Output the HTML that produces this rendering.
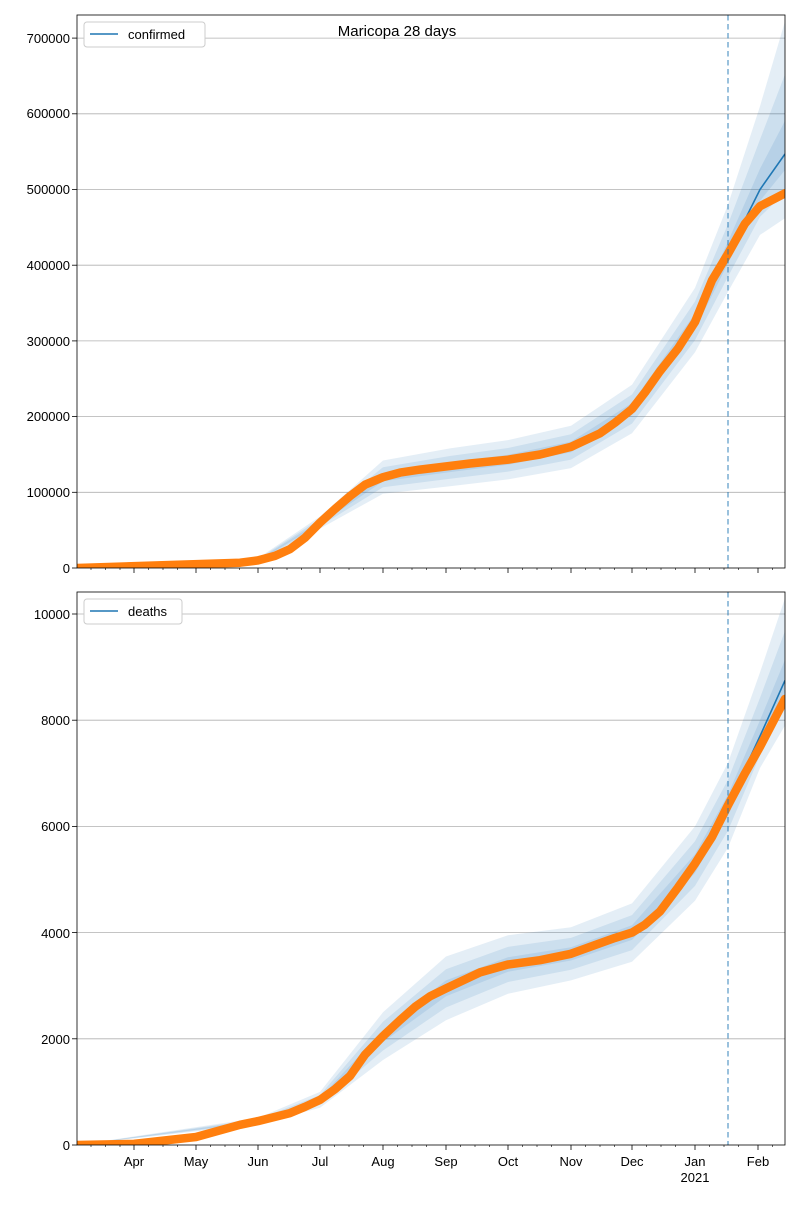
<!DOCTYPE html>
<html><head><meta charset="utf-8"><style>
body{margin:0;background:#fff}
svg text{font-family:"Liberation Sans","DejaVu Sans",sans-serif;font-size:13px;fill:#000}
</style></head><body>
<svg width="800" height="1200" viewBox="0 0 800 1200" xmlns="http://www.w3.org/2000/svg">
<rect width="800" height="1200" fill="#fff"/>
<defs>
<clipPath id="c1"><rect x="77" y="15" width="708" height="553"/></clipPath>
<clipPath id="c2"><rect x="77" y="592" width="708" height="553"/></clipPath>
</defs>
<!-- TOP -->
<g stroke="#b0b0b0" stroke-width="0.8">
<line x1="77" x2="785" y1="492.3" y2="492.3"/><line x1="77" x2="785" y1="416.6" y2="416.6"/>
<line x1="77" x2="785" y1="340.9" y2="340.9"/><line x1="77" x2="785" y1="265.2" y2="265.2"/>
<line x1="77" x2="785" y1="189.5" y2="189.5"/><line x1="77" x2="785" y1="113.8" y2="113.8"/>
<line x1="77" x2="785" y1="38.1" y2="38.1"/>
</g>
<g clip-path="url(#c1)" fill="#1f77b4" fill-opacity="0.12" stroke="none">
<polygon points="77,568 258,558.2 320,516.5 383,460.5 450,448.4 508,440.1 571,425.7 632,384.8 695,287.9 728,204.6 760,106.2 785,21.4 785,218.3 760,234.9 728,291.7 695,352.3 632,433.3 571,468.1 508,479.4 450,486.2 383,493.8 320,528.6 258,562.7"/>
<polygon points="77,568 258,559.1 320,518.9 383,467.2 450,456 508,448 571,434.2 632,394.5 695,301.5 728,224.3 760,139.5 785,74.4 785,192.5 760,216.8 728,276.6 695,340.1 632,423.6 571,459.6 508,471.6 450,478.7 383,487.2 320,526.2 258,561.8"/>
<polygon points="77,568 258,559.9 320,521.1 383,473 450,462.6 508,454.8 571,441.6 632,403 695,313.5 728,241.5 760,168.7 785,120.8 785,170 760,200.9 728,263.3 695,329.5 632,415.1 571,452.2 508,464.7 450,472.1 383,481.3 320,524.1 258,561"/>
<polyline fill="none" stroke="#1f77b4" stroke-width="1.6" stroke-opacity="1" points="77,568 240,562.7 258,560.4 275,555.9 290,549.1 305,537.7 320,522.6 335,509 350,496.1 365,484.7 383,477.2 400,472.6 420,469.6 470,463.5 508,459.7 540,454.5 571,446.9 600,433.3 615,422.7 632,409 645,392.4 660,371.2 678,348.5 695,322 712,280.3 728,253.8 760,189.5 785,154"/>
<polyline fill="none" stroke="#ff7f0e" stroke-width="8.5" stroke-linecap="round" stroke-linejoin="round" fill-opacity="1" points="77,568 240,562.7 258,560.4 275,555.9 290,549.1 305,537.7 320,522.6 335,509 350,496.1 365,484.7 383,477.2 400,472.6 420,469.6 470,463.5 508,459.7 540,454.5 571,446.9 600,433.3 615,422.7 632,409 645,392.4 660,371.2 678,348.5 695,322 712,280.3 728,253.8 745,223.6 760,206.2 785,193.3"/>
</g>
<line x1="728" x2="728" y1="15" y2="568" stroke="#1f77b4" stroke-opacity="0.6" stroke-width="1.5" stroke-dasharray="5.5,3.5"/>
<rect x="77" y="15" width="708" height="553" fill="none" stroke="#000" stroke-width="0.8"/>
<g text-anchor="end">
<text x="70" y="573">0</text><text x="70" y="497">100000</text><text x="70" y="421">200000</text>
<text x="70" y="346">300000</text><text x="70" y="270">400000</text><text x="70" y="194">500000</text>
<text x="70" y="118">600000</text><text x="70" y="43">700000</text>
</g>
<g stroke="#000" stroke-width="0.8">
<line x1="72" x2="77" y1="568" y2="568"/><line x1="72" x2="77" y1="492.3" y2="492.3"/><line x1="72" x2="77" y1="416.6" y2="416.6"/><line x1="72" x2="77" y1="340.9" y2="340.9"/><line x1="72" x2="77" y1="265.2" y2="265.2"/><line x1="72" x2="77" y1="189.5" y2="189.5"/><line x1="72" x2="77" y1="113.8" y2="113.8"/><line x1="72" x2="77" y1="38.1" y2="38.1"/>
</g>
<text x="397" y="36" text-anchor="middle" style="font-size:15px">Maricopa 28 days</text>
<rect x="84" y="22" width="121" height="25" rx="3" fill="#fff" stroke="#ccc"/>
<line x1="90" x2="118" y1="34" y2="34" stroke="#1f77b4" stroke-width="1.6"/>
<text x="128" y="39">confirmed</text>

<!-- BOTTOM -->
<g stroke="#b0b0b0" stroke-width="0.8">
<line x1="77" x2="785" y1="1038.8" y2="1038.8"/><line x1="77" x2="785" y1="932.6" y2="932.6"/>
<line x1="77" x2="785" y1="826.4" y2="826.4"/><line x1="77" x2="785" y1="720.2" y2="720.2"/>
<line x1="77" x2="785" y1="614" y2="614"/>
</g>
<g clip-path="url(#c2)" fill="#1f77b4" fill-opacity="0.12">
<polygon points="77,1145 258,1117.9 320,1091.9 383,1012.3 446,956.5 508,935.3 571,927.3 632,903.4 695,826.4 728,762.7 760,672.4 785,598.1 785,725.5 760,768 728,847.6 695,900.7 632,961.8 571,980.4 508,993.7 446,1020.2 383,1060 320,1107.8 258,1124.3"/>
<polygon points="77,1145 258,1119.2 320,1095.1 383,1021.8 446,969.2 508,946.9 571,937.9 632,915.1 695,841.3 728,779.7 760,697.9 785,631 785,707.5 760,755.2 728,830.6 695,885.9 632,950.1 571,969.8 508,982 446,1007.5 383,1050.5 320,1104.6 258,1123"/>
<polygon points="77,1145 258,1120.3 320,1097.9 383,1030.2 446,980.4 508,957.2 571,947.2 632,925.3 695,854.3 728,794.5 760,720.2 785,659.8 785,691.7 760,744.1 728,815.8 695,872.9 632,939.9 571,960.5 508,971.8 446,996.3 383,1042.1 320,1101.9 258,1121.9"/>
<polyline fill="none" stroke="#1f77b4" stroke-width="1.6" points="77,1145 134,1143.9 196,1137 240,1124.8 258,1121.1 290,1113.1 305,1106.8 320,1099.9 335,1089.2 350,1076 365,1054.7 383,1036.1 400,1020.2 415,1006.9 430,996.3 446,988.4 480,972.4 508,964.5 540,960.2 571,953.8 600,943.2 615,937.9 632,932.6 645,924.6 660,911.4 678,887.5 695,863.6 712,837 728,805.2 760,736.1 785,680.4"/>
<polyline fill="none" stroke="#ff7f0e" stroke-width="8.5" stroke-linecap="round" stroke-linejoin="round" points="77,1145 134,1143.9 196,1137 240,1124.8 258,1121.1 290,1113.1 305,1106.8 320,1099.9 335,1089.2 350,1076 365,1054.7 383,1036.1 400,1020.2 415,1006.9 430,996.3 446,988.4 480,972.4 508,964.5 540,960.2 571,953.8 600,943.2 615,937.9 632,932.6 645,924.6 660,911.4 678,887.5 695,863.6 712,837 728,805.2 745,773.3 760,746.8 785,698.9"/>
</g>
<line x1="728" x2="728" y1="592" y2="1145" stroke="#1f77b4" stroke-opacity="0.6" stroke-width="1.5" stroke-dasharray="5.5,3.5"/>
<rect x="77" y="592" width="708" height="553" fill="none" stroke="#000" stroke-width="0.8"/>
<g text-anchor="end">
<text x="70" y="1150">0</text><text x="70" y="1044">2000</text><text x="70" y="938">4000</text>
<text x="70" y="831">6000</text><text x="70" y="725">8000</text><text x="70" y="619">10000</text>
</g>
<g stroke="#000" stroke-width="0.8">
<line x1="72" x2="77" y1="1145" y2="1145"/><line x1="72" x2="77" y1="1038.8" y2="1038.8"/><line x1="72" x2="77" y1="932.6" y2="932.6"/><line x1="72" x2="77" y1="826.4" y2="826.4"/><line x1="72" x2="77" y1="720.2" y2="720.2"/><line x1="72" x2="77" y1="614" y2="614"/>
</g>
<rect x="84" y="599" width="98" height="25" rx="3" fill="#fff" stroke="#ccc"/>
<line x1="90" x2="118" y1="611" y2="611" stroke="#1f77b4" stroke-width="1.6"/>
<text x="128" y="616">deaths</text>

<!-- x ticks -->
<g stroke="#000" stroke-width="0.8">
<line x1="134" x2="134" y1="568" y2="573"/><line x1="196" x2="196" y1="568" y2="573"/><line x1="258" x2="258" y1="568" y2="573"/><line x1="320" x2="320" y1="568" y2="573"/><line x1="383" x2="383" y1="568" y2="573"/><line x1="446" x2="446" y1="568" y2="573"/><line x1="508" x2="508" y1="568" y2="573"/><line x1="571" x2="571" y1="568" y2="573"/><line x1="632" x2="632" y1="568" y2="573"/><line x1="695" x2="695" y1="568" y2="573"/><line x1="758" x2="758" y1="568" y2="573"/>
<line x1="134" x2="134" y1="1145" y2="1150"/><line x1="196" x2="196" y1="1145" y2="1150"/><line x1="258" x2="258" y1="1145" y2="1150"/><line x1="320" x2="320" y1="1145" y2="1150"/><line x1="383" x2="383" y1="1145" y2="1150"/><line x1="446" x2="446" y1="1145" y2="1150"/><line x1="508" x2="508" y1="1145" y2="1150"/><line x1="571" x2="571" y1="1145" y2="1150"/><line x1="632" x2="632" y1="1145" y2="1150"/><line x1="695" x2="695" y1="1145" y2="1150"/><line x1="758" x2="758" y1="1145" y2="1150"/>
</g>
<g stroke="#000" stroke-width="0.6">
<path d="M91,568v2M105.5,568v2M120,568v2M148.5,568v2M163,568v2M177.5,568v2M210.5,568v2M225,568v2M239.5,568v2M272.5,568v2M287,568v2M301.5,568v2M334.5,568v2M349,568v2M363.5,568v2M397.5,568v2M412,568v2M426.5,568v2M460.5,568v2M475,568v2M489.5,568v2M522.5,568v2M537,568v2M551.5,568v2M585.5,568v2M600,568v2M614.5,568v2M646.5,568v2M661,568v2M675.5,568v2M709.5,568v2M724,568v2M738.5,568v2M772.5,568v2"/>
<path d="M91,1145v2M105.5,1145v2M120,1145v2M148.5,1145v2M163,1145v2M177.5,1145v2M210.5,1145v2M225,1145v2M239.5,1145v2M272.5,1145v2M287,1145v2M301.5,1145v2M334.5,1145v2M349,1145v2M363.5,1145v2M397.5,1145v2M412,1145v2M426.5,1145v2M460.5,1145v2M475,1145v2M489.5,1145v2M522.5,1145v2M537,1145v2M551.5,1145v2M585.5,1145v2M600,1145v2M614.5,1145v2M646.5,1145v2M661,1145v2M675.5,1145v2M709.5,1145v2M724,1145v2M738.5,1145v2M772.5,1145v2"/>
</g>
<g text-anchor="middle">
<text x="134" y="1166">Apr</text><text x="196" y="1166">May</text><text x="258" y="1166">Jun</text>
<text x="320" y="1166">Jul</text><text x="383" y="1166">Aug</text><text x="446" y="1166">Sep</text>
<text x="508" y="1166">Oct</text><text x="571" y="1166">Nov</text><text x="632" y="1166">Dec</text>
<text x="695" y="1166">Jan</text><text x="758" y="1166">Feb</text><text x="695" y="1182">2021</text>
</g>
</svg>
</body></html>
